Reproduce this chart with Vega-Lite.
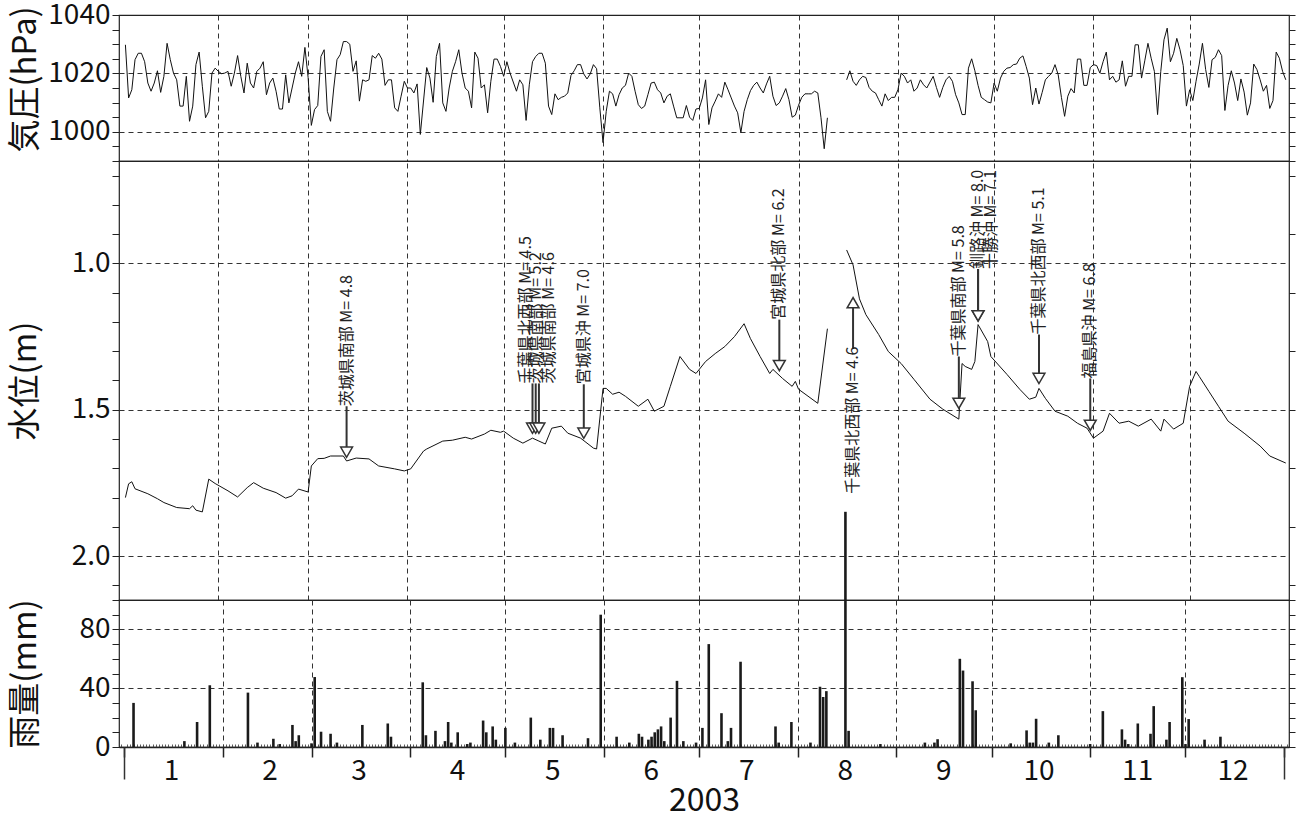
{
  "$schema": "https://vega.github.io/schema/vega-lite/v6.json",
  "background": "white",
  "padding": {"left": 8, "top": 0, "right": 5, "bottom": 0},
  "spacing": 0,
  "bounds": "flush",
  "datasets": {
    "pressure": [
      {"d":"2003-01-03","p":1029.8},{"d":"2003-01-04","p":1011.6},{"d":"2003-01-05","p":1014.4},{"d":"2003-01-06","p":1024.7},{"d":"2003-01-07","p":1026.9},{"d":"2003-01-08","p":1026.9},{"d":"2003-01-09","p":1024},{"d":"2003-01-10","p":1016.7},{"d":"2003-01-11","p":1013.9},{"d":"2003-01-12","p":1016.7},{"d":"2003-01-13","p":1020.9},{"d":"2003-01-14","p":1013.5},{"d":"2003-01-15","p":1019},{"d":"2003-01-16","p":1030.3},{"d":"2003-01-17","p":1024.7},{"d":"2003-01-18","p":1020.1},{"d":"2003-01-19","p":1017.8},{"d":"2003-01-20","p":1008.8},{"d":"2003-01-21","p":1008.8},{"d":"2003-01-22","p":1019},{"d":"2003-01-23","p":1003.6},{"d":"2003-01-24","p":1008.8},{"d":"2003-01-25","p":1023},{"d":"2003-01-26","p":1027.3},{"d":"2003-01-27","p":1015.6},{"d":"2003-01-28","p":1004.8},{"d":"2003-01-29","p":1007},{"d":"2003-01-30","p":1020.1},{"d":"2003-01-31","p":1021.8},
      {"d":"2003-02-01","p":1020.7},{"d":"2003-02-02","p":1019.9},{"d":"2003-02-03","p":1020.1},{"d":"2003-02-04","p":1020.7},{"d":"2003-02-05","p":1015.6},{"d":"2003-02-06","p":1020.1},{"d":"2003-02-07","p":1026.1},{"d":"2003-02-08","p":1019},{"d":"2003-02-09","p":1013.3},{"d":"2003-02-10","p":1023.5},{"d":"2003-02-11","p":1016.7},{"d":"2003-02-12","p":1015},{"d":"2003-02-13","p":1020.7},{"d":"2003-02-14","p":1021.8},{"d":"2003-02-15","p":1024},{"d":"2003-02-16","p":1012.7},{"d":"2003-02-17","p":1016.7},{"d":"2003-02-18","p":1018.4},{"d":"2003-02-19","p":1013.9},{"d":"2003-02-20","p":1007.8},{"d":"2003-02-21","p":1007.8},{"d":"2003-02-22","p":1019.5},{"d":"2003-02-23","p":1009.9},{"d":"2003-02-24","p":1015},{"d":"2003-02-25","p":1020.1},{"d":"2003-02-26","p":1024},{"d":"2003-02-27","p":1019},{"d":"2003-02-28","p":1028.9},
      {"d":"2003-03-01","p":1018.6},{"d":"2003-03-02","p":1002.2},{"d":"2003-03-03","p":1007.6},{"d":"2003-03-04","p":1009},{"d":"2003-03-05","p":1025.8},{"d":"2003-03-06","p":1028.1},{"d":"2003-03-07","p":1007},{"d":"2003-03-08","p":1003.6},{"d":"2003-03-09","p":1015},{"d":"2003-03-10","p":1024.7},{"d":"2003-03-11","p":1026.4},{"d":"2003-03-12","p":1030.9},{"d":"2003-03-13","p":1030.9},{"d":"2003-03-14","p":1030},{"d":"2003-03-15","p":1020.7},{"d":"2003-03-16","p":1024.3},{"d":"2003-03-17","p":1010.5},{"d":"2003-03-18","p":1017.8},{"d":"2003-03-19","p":1017.3},{"d":"2003-03-20","p":1017.8},{"d":"2003-03-21","p":1026.1},{"d":"2003-03-22","p":1025.2},{"d":"2003-03-23","p":1026.9},{"d":"2003-03-24","p":1024.9},{"d":"2003-03-25","p":1015.9},{"d":"2003-03-26","p":1017.8},{"d":"2003-03-27","p":1017.8},{"d":"2003-03-28","p":1008.2},{"d":"2003-03-29","p":1007},{"d":"2003-03-30","p":1012.2},{"d":"2003-03-31","p":1017.3},
      {"d":"2003-04-01","p":1015},{"d":"2003-04-02","p":1015},{"d":"2003-04-03","p":1013.3},{"d":"2003-04-04","p":1016.4},{"d":"2003-04-05","p":999.1},{"d":"2003-04-07","p":1022},{"d":"2003-04-08","p":1018.4},{"d":"2003-04-09","p":1010.1},{"d":"2003-04-10","p":1025.8},{"d":"2003-04-11","p":1030.3},{"d":"2003-04-12","p":1009.9},{"d":"2003-04-13","p":1007},{"d":"2003-04-14","p":1015},{"d":"2003-04-15","p":1020.7},{"d":"2003-04-16","p":1024},{"d":"2003-04-17","p":1028.1},{"d":"2003-04-18","p":1020.1},{"d":"2003-04-19","p":1015},{"d":"2003-04-20","p":1013.9},{"d":"2003-04-21","p":1008.2},{"d":"2003-04-22","p":1027.3},{"d":"2003-04-23","p":1025.2},{"d":"2003-04-24","p":1015},{"d":"2003-04-25","p":1016.1},{"d":"2003-04-26","p":1006.5},{"d":"2003-04-27","p":1017.3},{"d":"2003-04-28","p":1024.9},{"d":"2003-04-29","p":1024.9},{"d":"2003-04-30","p":1022.4},
      {"d":"2003-05-01","p":1019},{"d":"2003-05-02","p":1024},{"d":"2003-05-03","p":1020.1},{"d":"2003-05-05","p":1013.9},{"d":"2003-05-06","p":1017.8},{"d":"2003-05-07","p":1016.1},{"d":"2003-05-08","p":1003.9},{"d":"2003-05-09","p":1016.1},{"d":"2003-05-10","p":1024},{"d":"2003-05-11","p":1025.8},{"d":"2003-05-12","p":1026.9},{"d":"2003-05-13","p":1026.9},{"d":"2003-05-14","p":1023.5},{"d":"2003-05-15","p":1008.8},{"d":"2003-05-16","p":1005.9},{"d":"2003-05-17","p":1013},{"d":"2003-05-18","p":1011},{"d":"2003-05-19","p":1011.8},{"d":"2003-05-20","p":1012.2},{"d":"2003-05-21","p":1013.3},{"d":"2003-05-22","p":1019.3},{"d":"2003-05-23","p":1020.9},{"d":"2003-05-24","p":1023},{"d":"2003-05-25","p":1023},{"d":"2003-05-26","p":1019.8},{"d":"2003-05-27","p":1018.1},{"d":"2003-05-28","p":1019.8},{"d":"2003-05-29","p":1023},{"d":"2003-05-30","p":1021.6},{"d":"2003-05-31","p":1008.2},
      {"d":"2003-06-01","p":996.3},{"d":"2003-06-02","p":1007},{"d":"2003-06-03","p":1013.9},{"d":"2003-06-04","p":1013},{"d":"2003-06-05","p":1008.8},{"d":"2003-06-06","p":1012.7},{"d":"2003-06-07","p":1015},{"d":"2003-06-08","p":1015.9},{"d":"2003-06-09","p":1020.1},{"d":"2003-06-10","p":1019},{"d":"2003-06-11","p":1013.9},{"d":"2003-06-12","p":1009.3},{"d":"2003-06-13","p":1008},{"d":"2003-06-14","p":1008.8},{"d":"2003-06-15","p":1012.7},{"d":"2003-06-16","p":1016.7},{"d":"2003-06-17","p":1017},{"d":"2003-06-18","p":1014.4},{"d":"2003-06-19","p":1013.3},{"d":"2003-06-20","p":1009.9},{"d":"2003-06-21","p":1012.2},{"d":"2003-06-22","p":1013},{"d":"2003-06-23","p":1008.8},{"d":"2003-06-24","p":1004.8},{"d":"2003-06-25","p":1004.8},{"d":"2003-06-26","p":1004.8},{"d":"2003-06-27","p":1009},{"d":"2003-06-28","p":1005},{"d":"2003-06-29","p":1003.9},{"d":"2003-06-30","p":1007.8},
      {"d":"2003-07-01","p":1008},{"d":"2003-07-02","p":1011.6},{"d":"2003-07-03","p":1017.8},{"d":"2003-07-04","p":1002.5},{"d":"2003-07-05","p":1008.2},{"d":"2003-07-06","p":1010.5},{"d":"2003-07-07","p":1013},{"d":"2003-07-08","p":1011.8},{"d":"2003-07-09","p":1017},{"d":"2003-07-10","p":1014.4},{"d":"2003-07-11","p":1011.6},{"d":"2003-07-12","p":1008.8},{"d":"2003-07-13","p":1006.5},{"d":"2003-07-14","p":999.7},{"d":"2003-07-15","p":1007},{"d":"2003-07-16","p":1011},{"d":"2003-07-17","p":1014.1},{"d":"2003-07-18","p":1015.9},{"d":"2003-07-19","p":1017},{"d":"2003-07-20","p":1015},{"d":"2003-07-21","p":1013.3},{"d":"2003-07-22","p":1016.4},{"d":"2003-07-23","p":1019},{"d":"2003-07-24","p":1012.2},{"d":"2003-07-25","p":1009},{"d":"2003-07-26","p":1009.9},{"d":"2003-07-27","p":1012.2},{"d":"2003-07-28","p":1014.8},{"d":"2003-07-29","p":1011},{"d":"2003-07-30","p":1005},{"d":"2003-07-31","p":1005.7},
      {"d":"2003-08-01","p":1009.1},{"d":"2003-08-02","p":1011.8},{"d":"2003-08-03","p":1013},{"d":"2003-08-04","p":1013},{"d":"2003-08-05","p":1013},{"d":"2003-08-06","p":1013.9},{"d":"2003-08-07","p":1013.3},{"d":"2003-08-08","p":1004.8},{"d":"2003-08-09","p":994.2},{"d":"2003-08-10","p":1004.8},{"d":"2003-08-13","p":null},{"d":"2003-08-16","p":1017.8},{"d":"2003-08-17","p":1020.9},{"d":"2003-08-18","p":1017.3},{"d":"2003-08-19","p":1015.9},{"d":"2003-08-20","p":1017.8},{"d":"2003-08-21","p":1019},{"d":"2003-08-22","p":1018.6},{"d":"2003-08-23","p":1015.2},{"d":"2003-08-24","p":1013.9},{"d":"2003-08-25","p":1013.3},{"d":"2003-08-26","p":1011},{"d":"2003-08-27","p":1008.8},{"d":"2003-08-28","p":1013},{"d":"2003-08-29","p":1010.7},{"d":"2003-08-30","p":1011.8},{"d":"2003-08-31","p":1011.8},
      {"d":"2003-09-01","p":1014.4},{"d":"2003-09-02","p":1020.1},{"d":"2003-09-03","p":1019},{"d":"2003-09-04","p":1016.7},{"d":"2003-09-05","p":1017.8},{"d":"2003-09-06","p":1013.9},{"d":"2003-09-07","p":1015},{"d":"2003-09-08","p":1017.8},{"d":"2003-09-09","p":1016.1},{"d":"2003-09-10","p":1015},{"d":"2003-09-12","p":1019},{"d":"2003-09-13","p":1015.2},{"d":"2003-09-14","p":1011.8},{"d":"2003-09-15","p":1015.2},{"d":"2003-09-16","p":1017.8},{"d":"2003-09-17","p":1019},{"d":"2003-09-18","p":1017.3},{"d":"2003-09-19","p":1012.7},{"d":"2003-09-20","p":1009.9},{"d":"2003-09-21","p":1005.9},{"d":"2003-09-22","p":1005.9},{"d":"2003-09-23","p":1021.8},{"d":"2003-09-24","p":1025},{"d":"2003-09-25","p":1020.9},{"d":"2003-09-26","p":1015.9},{"d":"2003-09-27","p":1011.8},{"d":"2003-09-28","p":1011},{"d":"2003-09-29","p":1010.2},{"d":"2003-09-30","p":1009.9},
      {"d":"2003-10-01","p":1016.7},{"d":"2003-10-02","p":1013.9},{"d":"2003-10-03","p":1018.4},{"d":"2003-10-04","p":1020.7},{"d":"2003-10-05","p":1021.8},{"d":"2003-10-06","p":1022},{"d":"2003-10-07","p":1023},{"d":"2003-10-08","p":1023.2},{"d":"2003-10-09","p":1025.2},{"d":"2003-10-10","p":1026},{"d":"2003-10-11","p":1022.4},{"d":"2003-10-12","p":1018.4},{"d":"2003-10-13","p":1009.3},{"d":"2003-10-14","p":1015},{"d":"2003-10-15","p":1009.5},{"d":"2003-10-16","p":1013.5},{"d":"2003-10-17","p":1017.8},{"d":"2003-10-18","p":1019},{"d":"2003-10-19","p":1020.1},{"d":"2003-10-20","p":1023},{"d":"2003-10-21","p":1019.5},{"d":"2003-10-22","p":1011.8},{"d":"2003-10-23","p":1005.3},{"d":"2003-10-24","p":1012.2},{"d":"2003-10-25","p":1014.8},{"d":"2003-10-26","p":1013.3},{"d":"2003-10-27","p":1024.9},{"d":"2003-10-28","p":1024.9},{"d":"2003-10-29","p":1015.9},{"d":"2003-10-30","p":1015.9},{"d":"2003-10-31","p":1022},
      {"d":"2003-11-01","p":1023},{"d":"2003-11-02","p":1022.7},{"d":"2003-11-03","p":1020.1},{"d":"2003-11-04","p":1024},{"d":"2003-11-05","p":1027.3},{"d":"2003-11-06","p":1017.8},{"d":"2003-11-07","p":1019},{"d":"2003-11-08","p":1017},{"d":"2003-11-09","p":1017.8},{"d":"2003-11-10","p":1024.3},{"d":"2003-11-11","p":1015.6},{"d":"2003-11-12","p":1019},{"d":"2003-11-13","p":1019},{"d":"2003-11-14","p":1029.8},{"d":"2003-11-15","p":1029.8},{"d":"2003-11-16","p":1018.4},{"d":"2003-11-17","p":1024.3},{"d":"2003-11-18","p":1030.3},{"d":"2003-11-19","p":1025.2},{"d":"2003-11-20","p":1020.7},{"d":"2003-11-21","p":1005.9},{"d":"2003-11-22","p":1020.7},{"d":"2003-11-23","p":1031.5},{"d":"2003-11-24","p":1035.5},{"d":"2003-11-25","p":1024},{"d":"2003-11-26","p":1026.9},{"d":"2003-11-27","p":1032},{"d":"2003-11-28","p":1028.1},{"d":"2003-11-29","p":1022.7},{"d":"2003-11-30","p":1008.8},
      {"d":"2003-12-01","p":1014.4},{"d":"2003-12-02","p":1010.7},{"d":"2003-12-03","p":1017.3},{"d":"2003-12-04","p":1023.2},{"d":"2003-12-05","p":1030.3},{"d":"2003-12-06","p":1021.3},{"d":"2003-12-07","p":1015.2},{"d":"2003-12-08","p":1024.7},{"d":"2003-12-09","p":1025.5},{"d":"2003-12-10","p":1028.1},{"d":"2003-12-11","p":1026.1},{"d":"2003-12-12","p":1007.3},{"d":"2003-12-13","p":1015.9},{"d":"2003-12-14","p":1020.9},{"d":"2003-12-15","p":1016.7},{"d":"2003-12-16","p":1010.7},{"d":"2003-12-17","p":1018.1},{"d":"2003-12-18","p":1013.6},{"d":"2003-12-19","p":1005.7},{"d":"2003-12-20","p":1009.9},{"d":"2003-12-21","p":1023.2},{"d":"2003-12-22","p":1021.3},{"d":"2003-12-23","p":1017.8},{"d":"2003-12-24","p":1013.9},{"d":"2003-12-25","p":1015.9},{"d":"2003-12-26","p":1008},{"d":"2003-12-27","p":1010.7},{"d":"2003-12-28","p":1027.3},{"d":"2003-12-29","p":1025.2},{"d":"2003-12-30","p":1020.7},{"d":"2003-12-31","p":1017.8}
    ],
    "level": [
      {"d":"2003-01-03","m":1.800},{"d":"2003-01-04","m":1.753},{"d":"2003-01-05","m":1.746},{"d":"2003-01-06","m":1.770},{"d":"2003-01-10","m":1.787},{"d":"2003-01-13","m":1.804},{"d":"2003-01-15","m":1.817},{"d":"2003-01-19","m":1.834},{"d":"2003-01-23","m":1.838},{"d":"2003-01-24","m":1.828},{"d":"2003-01-25","m":1.843},{"d":"2003-01-27","m":1.849},{"d":"2003-01-29","m":1.737},{"d":"2003-01-31","m":1.752},
      {"d":"2003-02-04","m":1.777},{"d":"2003-02-07","m":1.798},{"d":"2003-02-10","m":1.766},{"d":"2003-02-12","m":1.749},{"d":"2003-02-15","m":1.768},{"d":"2003-02-19","m":1.783},{"d":"2003-02-22","m":1.802},{"d":"2003-02-24","m":1.794},{"d":"2003-02-26","m":1.771},
      {"d":"2003-03-01","m":1.781},{"d":"2003-03-02","m":1.692},{"d":"2003-03-04","m":1.667},{"d":"2003-03-06","m":1.666},{"d":"2003-03-08","m":1.658},{"d":"2003-03-12","m":1.658},{"d":"2003-03-13","m":1.675},{"d":"2003-03-16","m":1.665},{"d":"2003-03-20","m":1.668},{"d":"2003-03-23","m":1.692},{"d":"2003-03-28","m":1.702},{"d":"2003-03-31","m":1.709},
      {"d":"2003-04-02","m":1.702},{"d":"2003-04-06","m":1.641},{"d":"2003-04-07","m":1.634},{"d":"2003-04-12","m":1.607},{"d":"2003-04-15","m":1.604},{"d":"2003-04-19","m":1.594},{"d":"2003-04-21","m":1.600},{"d":"2003-04-25","m":1.583},{"d":"2003-04-27","m":1.570},{"d":"2003-04-30","m":1.577},
      {"d":"2003-05-01","m":1.573},{"d":"2003-05-04","m":1.597},{"d":"2003-05-07","m":1.614},{"d":"2003-05-10","m":1.597},{"d":"2003-05-12","m":1.607},{"d":"2003-05-14","m":1.617},{"d":"2003-05-16","m":1.563},{"d":"2003-05-19","m":1.556},{"d":"2003-05-21","m":1.580},{"d":"2003-05-25","m":1.597},{"d":"2003-05-29","m":1.631},{"d":"2003-05-30","m":1.634},
      {"d":"2003-06-01","m":1.427},{"d":"2003-06-02","m":1.427},{"d":"2003-06-04","m":1.447},{"d":"2003-06-06","m":1.440},{"d":"2003-06-08","m":1.454},{"d":"2003-06-12","m":1.488},{"d":"2003-06-15","m":1.464},{"d":"2003-06-17","m":1.505},{"d":"2003-06-20","m":1.488},{"d":"2003-06-22","m":1.420},{"d":"2003-06-25","m":1.318},{"d":"2003-06-28","m":1.362},{"d":"2003-06-30","m":1.376},
      {"d":"2003-07-03","m":1.335},{"d":"2003-07-06","m":1.308},{"d":"2003-07-09","m":1.284},{"d":"2003-07-12","m":1.250},{"d":"2003-07-15","m":1.206},{"d":"2003-07-17","m":1.257},{"d":"2003-07-20","m":1.318},{"d":"2003-07-23","m":1.376},{"d":"2003-07-24","m":1.362},{"d":"2003-07-27","m":1.393},{"d":"2003-07-30","m":1.420},{"d":"2003-07-31","m":1.403},
      {"d":"2003-08-01","m":1.430},{"d":"2003-08-07","m":1.478},{"d":"2003-08-10","m":1.223},{"d":"2003-08-13","m":null},{"d":"2003-08-16","m":0.954},{"d":"2003-08-18","m":1.005},{"d":"2003-08-20","m":1.121},{"d":"2003-08-22","m":1.175},{"d":"2003-08-26","m":1.243},{"d":"2003-08-29","m":1.301},
      {"d":"2003-09-02","m":1.342},{"d":"2003-09-06","m":1.396},{"d":"2003-09-11","m":1.464},{"d":"2003-09-15","m":1.498},{"d":"2003-09-20","m":1.532},{"d":"2003-09-21","m":1.342},{"d":"2003-09-22","m":1.352},{"d":"2003-09-24","m":1.362},{"d":"2003-09-25","m":1.335},{"d":"2003-09-26","m":1.209},{"d":"2003-09-29","m":1.267},{"d":"2003-09-30","m":1.318},
      {"d":"2003-10-05","m":1.379},{"d":"2003-10-09","m":1.430},{"d":"2003-10-12","m":1.464},{"d":"2003-10-14","m":1.457},{"d":"2003-10-15","m":1.427},{"d":"2003-10-17","m":1.461},{"d":"2003-10-20","m":1.505},{"d":"2003-10-24","m":1.522},{"d":"2003-10-27","m":1.546},{"d":"2003-10-30","m":1.563},
      {"d":"2003-11-01","m":1.597},{"d":"2003-11-04","m":1.573},{"d":"2003-11-06","m":1.512},{"d":"2003-11-09","m":1.546},{"d":"2003-11-12","m":1.539},{"d":"2003-11-15","m":1.556},{"d":"2003-11-19","m":1.532},{"d":"2003-11-22","m":1.573},{"d":"2003-11-23","m":1.532},{"d":"2003-11-26","m":1.566},{"d":"2003-11-29","m":1.546},
      {"d":"2003-12-01","m":1.420},{"d":"2003-12-03","m":1.369},{"d":"2003-12-04","m":1.386},{"d":"2003-12-07","m":1.437},{"d":"2003-12-10","m":1.488},{"d":"2003-12-13","m":1.539},{"d":"2003-12-18","m":1.580},{"d":"2003-12-23","m":1.624},{"d":"2003-12-26","m":1.658},{"d":"2003-12-31","m":1.682}
    ],
    "rain": [
      {"d":"2003-01-04","mm":30},{"d":"2003-01-20","mm":4},{"d":"2003-01-24","mm":17},{"d":"2003-01-28","mm":42},{"d":"2003-02-09","mm":37},{"d":"2003-02-12","mm":3},{"d":"2003-02-17","mm":5.6},{"d":"2003-02-19","mm":2},{"d":"2003-02-23","mm":15},{"d":"2003-02-24","mm":4},{"d":"2003-02-25","mm":8},
      {"d":"2003-03-01","mm":2.5},{"d":"2003-03-02","mm":47.6},{"d":"2003-03-04","mm":10.4},{"d":"2003-03-07","mm":9},{"d":"2003-03-09","mm":3},{"d":"2003-03-17","mm":15},{"d":"2003-03-25","mm":16},{"d":"2003-03-26","mm":7},
      {"d":"2003-04-05","mm":44},{"d":"2003-04-06","mm":8},{"d":"2003-04-09","mm":11},{"d":"2003-04-12","mm":4},{"d":"2003-04-13","mm":17},{"d":"2003-04-14","mm":3},{"d":"2003-04-16","mm":10},{"d":"2003-04-19","mm":2},{"d":"2003-04-20","mm":3},{"d":"2003-04-24","mm":18},{"d":"2003-04-25","mm":10},{"d":"2003-04-27","mm":14},{"d":"2003-04-28","mm":5},
      {"d":"2003-05-01","mm":13},{"d":"2003-05-04","mm":3},{"d":"2003-05-09","mm":20},{"d":"2003-05-12","mm":5},{"d":"2003-05-15","mm":13},{"d":"2003-05-16","mm":13},{"d":"2003-05-19","mm":8},{"d":"2003-05-27","mm":6},{"d":"2003-05-31","mm":90},
      {"d":"2003-06-05","mm":7},{"d":"2003-06-09","mm":3},{"d":"2003-06-12","mm":9},{"d":"2003-06-13","mm":7},{"d":"2003-06-15","mm":5},{"d":"2003-06-16","mm":7},{"d":"2003-06-17","mm":10},{"d":"2003-06-18","mm":12},{"d":"2003-06-19","mm":14},{"d":"2003-06-20","mm":4},{"d":"2003-06-22","mm":20},{"d":"2003-06-24","mm":45},{"d":"2003-06-26","mm":4},{"d":"2003-06-30","mm":3},
      {"d":"2003-07-02","mm":13},{"d":"2003-07-04","mm":70},{"d":"2003-07-08","mm":23},{"d":"2003-07-10","mm":4},{"d":"2003-07-11","mm":13},{"d":"2003-07-14","mm":58},{"d":"2003-07-25","mm":14},{"d":"2003-07-26","mm":3},{"d":"2003-07-30","mm":17},
      {"d":"2003-08-05","mm":3},{"d":"2003-08-08","mm":41},{"d":"2003-08-09","mm":34},{"d":"2003-08-10","mm":38},{"d":"2003-08-16","mm":160},{"d":"2003-08-17","mm":11},{"d":"2003-08-27","mm":2},
      {"d":"2003-09-10","mm":3},{"d":"2003-09-13","mm":3},{"d":"2003-09-14","mm":5.3},{"d":"2003-09-21","mm":60},{"d":"2003-09-22","mm":52},{"d":"2003-09-25","mm":44.7},{"d":"2003-09-26","mm":25},
      {"d":"2003-10-07","mm":2.5},{"d":"2003-10-12","mm":11.3},{"d":"2003-10-13","mm":3},{"d":"2003-10-14","mm":3},{"d":"2003-10-15","mm":19.2},{"d":"2003-10-19","mm":3},{"d":"2003-10-22","mm":8},
      {"d":"2003-11-01","mm":2},{"d":"2003-11-05","mm":24.4},{"d":"2003-11-11","mm":12},{"d":"2003-11-12","mm":5},{"d":"2003-11-13","mm":2},{"d":"2003-11-16","mm":16},{"d":"2003-11-20","mm":9},{"d":"2003-11-21","mm":27.8},{"d":"2003-11-25","mm":5},{"d":"2003-11-26","mm":17},{"d":"2003-11-30","mm":47.5},
      {"d":"2003-12-01","mm":2},{"d":"2003-12-02","mm":19},{"d":"2003-12-07","mm":5},{"d":"2003-12-12","mm":7}
    ],
    "quakes": [
      {"d":"2003-03-13","t":"2003-03-13","ty":1.488,"a0":1.488,"a1":1.645,"dir":"down","label":"茨城県南部 M= 4.8"},
      {"d":"2003-05-10","t":"2003-05-08","ty":1.41,"a0":1.41,"a1":1.563,"dir":"down","label":"千葉県北西部 M= 4.5"},
      {"d":"2003-05-11","t":"2003-05-11","ty":1.41,"a0":1.41,"a1":1.563,"dir":"down","label":"茨城県南部 M= 5.2"},
      {"d":"2003-05-12","t":"2003-05-15","ty":1.41,"a0":1.41,"a1":1.563,"dir":"down","label":"茨城県南部 M= 4.6"},
      {"d":"2003-05-26","t":"2003-05-26","ty":1.413,"a0":1.413,"a1":1.58,"dir":"down","label":"宮城県沖 M= 7.0"},
      {"d":"2003-07-26","t":"2003-07-26","ty":1.192,"a0":1.192,"a1":1.349,"dir":"down","label":"宮城県北部 M= 6.2"},
      {"d":"2003-08-18","t":"2003-08-18","ty":1.787,"a0":1.291,"a1":1.134,"dir":"up","label":"千葉県北西部 M= 4.6"},
      {"d":"2003-09-20","t":"2003-09-20","ty":1.318,"a0":1.318,"a1":1.478,"dir":"down","label":"千葉県南部 M= 5.8"},
      {"d":"2003-09-26","t":"2003-09-26","ty":1.019,"a0":1.019,"a1":1.179,"dir":"down","label":"釧路沖 M= 8.0"},
      {"d":"2003-09-26","t":"2003-09-30","ty":1.019,"a0":1.019,"a1":1.179,"dir":"down","label":"十勝沖 M= 7.1"},
      {"d":"2003-10-15","t":"2003-10-15","ty":1.243,"a0":1.243,"a1":1.393,"dir":"down","label":"千葉県北西部 M= 5.1"},
      {"d":"2003-10-31","t":"2003-10-31","ty":1.393,"a0":1.393,"a1":1.553,"dir":"down","label":"福島県沖 M= 6.8"}
    ]
  },
  "vconcat": [
    {
      "width": 1170, "height": 146,
      "data": {"name": "pressure"},
      "layer": [
        {
          "mark": {"type": "line", "color": "#111", "strokeWidth": 1},
          "encoding": {
            "x": {"field": "d", "type": "temporal",
              "scale": {"type": "utc", "nice": false, "domain": [{"year":2003,"month":1,"date":1,"utc":true},{"year":2004,"month":1,"date":1,"utc":true}]},
              "axis": {"title": null, "labels": false, "ticks": false, "domain": false, "grid": true, "tickCount": {"interval": "month", "step": 1},
                "gridOpacity": {"condition": {"test": "utcmonth(datum.value) === 0", "value": 0}, "value": 1}}},
            "y": {"field": "p", "type": "quantitative",
              "scale": {"domain": [990, 1040], "nice": false, "zero": false},
              "axis": {"title": "気圧(hPa)", "values": [990,995,1000,1005,1010,1015,1020,1025,1030,1035,1040], "format": "d",
                "labelExpr": "datum.value % 20 === 0 ? datum.label : ''", "labelOverlap": false, "labelFontSize": 28, "labelPadding": 2,
                "tickSize": 7, "domain": false, "grid": true,
                "gridOpacity": {"condition": {"test": "datum.value === 1000 || datum.value === 1020", "value": 1}, "value": 0},
                "titleFontSize": 33, "titleX": -94, "titleY": 64, "titleBaseline": "middle", "titleAngle": -90}}
          }
        },
        {
          "mark": {"type": "line", "opacity": 0},
          "encoding": {
            "x": {"field": "d", "type": "temporal",
              "scale": {"type": "utc", "nice": false, "domain": [{"year":2003,"month":1,"date":1,"utc":true},{"year":2004,"month":1,"date":1,"utc":true}]}},
            "y": {"field": "p", "type": "quantitative",
              "scale": {"domain": [990, 1040], "nice": false, "zero": false},
              "axis": {"orient": "right", "title": null, "labels": false, "grid": false, "domain": false, "tickSize": 6,
                "values": [990,995,1000,1005,1010,1015,1020,1025,1030,1035,1040]}}
          }
        }
      ],
      "resolve": {"axis": {"y": "independent"}}
    },
    {
      "width": 1170, "height": 439,
      "layer": [
        {
          "data": {"name": "level"},
          "mark": {"type": "line", "color": "#111", "strokeWidth": 1},
          "encoding": {
            "x": {"field": "d", "type": "temporal",
              "scale": {"type": "utc", "nice": false, "domain": [{"year":2003,"month":1,"date":1,"utc":true},{"year":2004,"month":1,"date":1,"utc":true}]},
              "axis": {"title": null, "labels": false, "ticks": false, "domain": false, "grid": true, "tickCount": {"interval": "month", "step": 1},
                "gridOpacity": {"condition": {"test": "utcmonth(datum.value) === 0", "value": 0}, "value": 1}}},
            "y": {"field": "m", "type": "quantitative",
              "scale": {"domain": [0.65, 2.15], "reverse": true, "nice": false, "zero": false},
              "axis": {"title": "水位(m)", "values": [0.7,0.8,0.9,1,1.1,1.2,1.3,1.4,1.5,1.6,1.7,1.8,1.9,2,2.1], "format": ".1f",
                "labelExpr": "(datum.value === 1 || datum.value === 1.5 || datum.value === 2) ? datum.label : ''", "labelOverlap": false,
                "labelFontSize": 28, "labelPadding": 2, "tickSize": 7, "domain": false, "grid": true,
                "gridOpacity": {"condition": {"test": "datum.value === 1 || datum.value === 1.5 || datum.value === 2", "value": 1}, "value": 0},
                "titleFontSize": 33, "titleX": -94, "titleBaseline": "middle", "titleAngle": -90}}
          }
        },
        {
          "data": {"name": "quakes"},
          "layer": [
            {
              "mark": {"type": "rule", "color": "#333", "strokeWidth": 2},
              "encoding": {
                "x": {"field": "d", "type": "temporal",
                  "scale": {"type": "utc", "nice": false, "domain": [{"year":2003,"month":1,"date":1,"utc":true},{"year":2004,"month":1,"date":1,"utc":true}]}},
                "y": {"field": "a0", "type": "quantitative",
                  "scale": {"domain": [0.65, 2.15], "reverse": true, "nice": false, "zero": false},
                  "axis": {"orient": "right", "title": null, "labels": false, "grid": false, "domain": false, "tickSize": 6,
                    "values": [0.7,0.8,0.9,1,1.1,1.2,1.3,1.4,1.5,1.6,1.7,1.8,1.9,2,2.1]}},
                "y2": {"field": "a1"}
              }
            },
            {
              "mark": {"type": "point", "filled": true, "fill": "white", "stroke": "#333", "strokeWidth": 1.5, "size": 140, "opacity": 1},
              "encoding": {
                "x": {"field": "d", "type": "temporal",
                  "scale": {"type": "utc", "nice": false, "domain": [{"year":2003,"month":1,"date":1,"utc":true},{"year":2004,"month":1,"date":1,"utc":true}]}},
                "y": {"field": "a1", "type": "quantitative",
                  "scale": {"domain": [0.65, 2.15], "reverse": true, "nice": false, "zero": false}},
                "shape": {"field": "dir", "type": "nominal", "scale": {"domain": ["down", "up"], "range": ["triangle-down", "triangle-up"]}, "legend": null}
              }
            },
            {
              "mark": {"type": "text", "angle": 270, "align": "left", "baseline": "middle", "fontSize": 16, "color": "#222", "font": "Noto Sans CJK JP"},
              "encoding": {
                "x": {"field": "t", "type": "temporal",
                  "scale": {"type": "utc", "nice": false, "domain": [{"year":2003,"month":1,"date":1,"utc":true},{"year":2004,"month":1,"date":1,"utc":true}]}},
                "y": {"field": "ty", "type": "quantitative",
                  "scale": {"domain": [0.65, 2.15], "reverse": true, "nice": false, "zero": false}},
                "text": {"field": "label"}
              }
            }
          ]
        }
      ],
      "resolve": {"axis": {"y": "independent"}}
    },
    {
      "width": 1170, "height": 147,
      "data": {"name": "rain"},
      "layer": [
        {
          "mark": {"type": "bar", "color": "#1a1a1a", "size": 2.6},
          "encoding": {
            "x": {"field": "d", "type": "temporal",
              "scale": {"type": "utc", "nice": false, "domain": [{"year":2003,"month":1,"date":1,"utc":true},{"year":2004,"month":1,"date":1,"utc":true}]},
              "axis": {"title": "2003", "titleFontSize": 32, "titlePadding": 0, "tickCount": {"interval": "month", "step": 1},
                "labelExpr": "utcyear(datum.value) > 2003 ? '' : '' + (utcmonth(datum.value) + 1)",
                "labelOffset": 47, "labelAlign": "center", "labelFontSize": 28, "labelFlush": false, "labelOverlap": false, "labelPadding": 0,
                "tickSize": 10, "tickWidth": 1.5, "domainWidth": 1.5, "grid": true,
                "gridOpacity": {"condition": {"test": "utcmonth(datum.value) === 0", "value": 0}, "value": 1}}},
            "y": {"field": "mm", "type": "quantitative",
              "scale": {"domain": [0, 100], "nice": false},
              "axis": {"title": "雨量(mm)", "values": [0,10,20,30,40,50,60,70,80,90,100], "format": "d",
                "labelExpr": "(datum.value === 0 || datum.value === 40 || datum.value === 80) ? datum.label : ''", "labelOverlap": false,
                "labelFontSize": 28, "labelPadding": 2, "tickSize": 7, "domain": false, "grid": true,
                "gridOpacity": {"condition": {"test": "datum.value === 40 || datum.value === 80", "value": 1}, "value": 0},
                "titleFontSize": 33, "titleX": -94, "titleBaseline": "middle", "titleAngle": -90}}
          }
        },
        {
          "mark": {"type": "bar", "opacity": 0, "size": 2.6},
          "encoding": {
            "x": {"field": "d", "type": "temporal",
              "scale": {"type": "utc", "nice": false, "domain": [{"year":2003,"month":1,"date":1,"utc":true},{"year":2004,"month":1,"date":1,"utc":true}]},
              "axis": {"orient": "bottom", "title": null, "labels": false, "grid": false, "domain": false, "tickCount": {"interval": "day", "step": 1},
                "tickSize": {"condition": {"test": "utcmonth(datum.value) === 0 && utcdate(datum.value) === 1", "value": 32}, "value": -3},
                "tickWidth": {"condition": {"test": "utcmonth(datum.value) === 0 && utcdate(datum.value) === 1", "value": 1.5}, "value": 0.8},
                "tickColor": "#333"}},
            "y": {"field": "mm", "type": "quantitative",
              "scale": {"domain": [0, 100], "nice": false},
              "axis": {"orient": "right", "title": null, "labels": false, "grid": false, "domain": false, "tickSize": 6,
                "values": [0,10,20,30,40,50,60,70,80,90,100]}}
          }
        }
      ],
      "resolve": {"axis": {"x": "independent", "y": "independent"}}
    }
  ],
  "config": {
    "font": "Noto Sans CJK JP",
    "view": {"stroke": "#222", "strokeWidth": 1.2},
    "axis": {
      "labelFont": "Noto Sans CJK JP", "titleFont": "Noto Sans CJK JP",
      "labelColor": "#111", "titleColor": "#111", "titleFontWeight": "normal",
      "tickColor": "#222", "domainColor": "#222",
      "gridColor": "#333", "gridDash": [5, 4], "gridWidth": 1
    }
  }
}
